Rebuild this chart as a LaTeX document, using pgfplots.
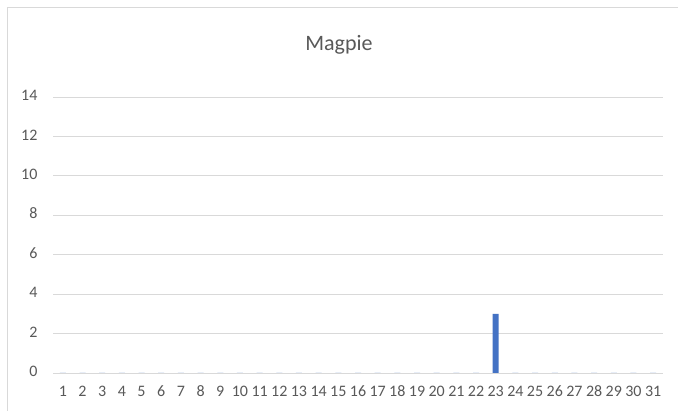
\documentclass[border=0pt]{standalone}
\usepackage{pgfplots}
\pgfplotsset{compat=1.18}
\usepackage{fontspec}
\setmainfont{Carlito}
\definecolor{barblue}{HTML}{4472C4}
\definecolor{gridgray}{HTML}{D9D9D9}
\definecolor{txtgray}{HTML}{595959}
\definecolor{bordergray}{HTML}{D9D9D9}
\begin{document}
\begin{tikzpicture}
\useasboundingbox[fill=white] (0pt,0pt) rectangle (678pt,411pt);
\draw[bordergray,line width=1.2pt] (7.5pt,-5pt) -- (7.5pt,403.5pt) -- (690pt,403.5pt);
\node[txtgray,font=\fontsize{22}{26}\selectfont] at (339pt,366pt) {Magpie};
\begin{axis}[
  at={(53pt,38pt)}, anchor=south west,
  scale only axis, width=610pt, height=276pt,
  xmin=0.5, xmax=31.5, ymin=0, ymax=14,
  xtick={1,...,31}, ytick={0,2,...,14},
  axis line style={draw=none},
  major tick length=0pt,
  ymajorgrids, grid style={gridgray,line width=0.9pt},
  tick label style={txtgray,font=\fontsize{16}{18}\selectfont},
  /pgf/number format/assume math mode=true,
  typeset ticklabels with strut,
  xticklabel style={yshift=-7pt, inner xsep=0pt},
  yticklabel style={xshift=-12pt},
  ybar, bar width=6pt,
  clip=false,
]
\addplot[fill=barblue,draw=none] coordinates {
(1,0)(2,0)(3,0)(4,0)(5,0)(6,0)(7,0)(8,0)(9,0)(10,0)
(11,0)(12,0)(13,0)(14,0)(15,0)(16,0)(17,0)(18,0)(19,0)(20,0)
(21,0)(22,0)(23,3)(24,0)(25,0)(26,0)(27,0)(28,0)(29,0)(30,0)(31,0)};
\end{axis}
\end{tikzpicture}
\end{document}
